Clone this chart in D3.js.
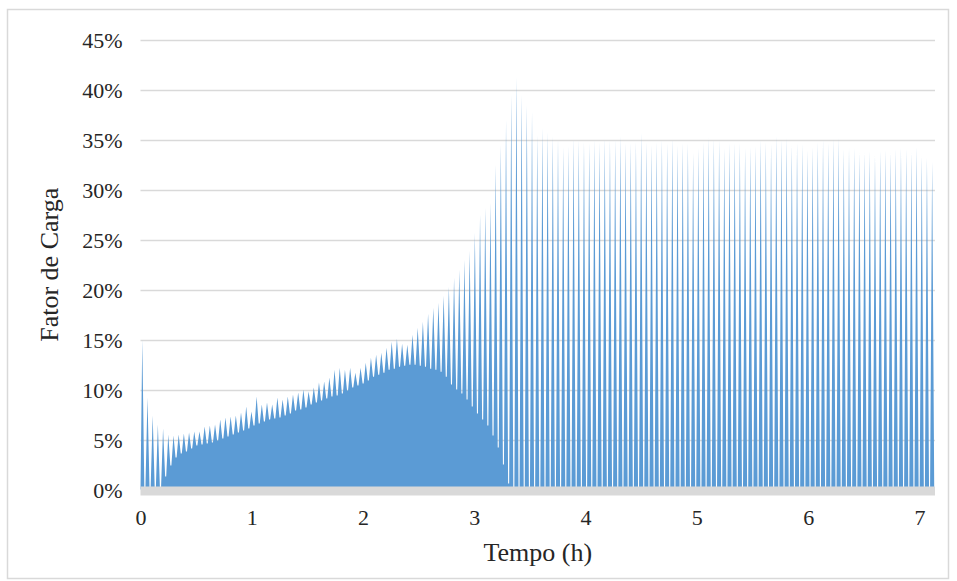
<!DOCTYPE html>
<html>
<head>
<meta charset="utf-8">
<script src="https://cdn.jsdelivr.net/npm/d3@7/dist/d3.min.js"></script>
<style>
  html, body { margin: 0; padding: 0; background: #ffffff; }
  svg { display: block; }
</style>
</head>
<body>
<svg id="chart" width="957" height="581"></svg>
<script>
// ---- Data ----
// Load factor oscillates in short cycles; each cycle has a peak and a trough (in %).
const cycleStartH = 0.016;      // time of the first peak (h)
const cycleLengthH = 0.0467;    // length of one load cycle (h)
const timeEndH = 7.14;          // end of the record (h)

const peakPct = [
  15.0, 9.2, 7.4, 6.5, 6.1, 5.5, 5.4, 5.5, 5.6, 5.7,
  5.8, 5.8, 6.3, 6.4, 6.5, 7.0, 7.2, 7.3, 7.4, 7.7,
  8.3, 7.8, 9.3, 8.5, 8.7, 8.5, 9.2, 9.0, 9.3, 9.5,
  9.7, 10.0, 9.8, 10.2, 10.7, 10.8, 11.2, 12.0, 12.2, 12.0,
  12.2, 11.7, 12.2, 12.7, 13.2, 13.5, 13.7, 14.2, 14.8, 15.1,
  14.6, 14.5, 15.5, 16.2, 16.8, 17.6, 18.2, 18.7, 19.4, 20.3,
  21.2, 22.0, 23.0, 23.9, 25.7, 27.5, 28.2, 28.7, 32.5, 34.5,
  37.0, 39.5, 41.3, 39.5, 38.5, 37.8, 35.5, 36.2, 35.8, 35.4,
  35.1, 34.3, 34.4, 35.2, 35.0, 34.8, 34.7, 35.0, 34.8, 35.2,
  35.0, 35.0, 35.4, 34.7, 34.7, 34.8, 35.7, 34.8, 34.5, 34.8,
  35.0, 34.7, 35.2, 34.5, 34.7, 34.7, 33.7, 34.2, 34.8, 35.3,
  35.1, 35.0, 34.2, 34.7, 34.7, 34.7, 34.2, 34.3, 34.4, 35.0,
  34.8, 34.6, 35.4, 35.0, 35.2, 34.5, 34.7, 34.6, 34.0, 34.3,
  34.8, 35.0, 34.7, 35.1, 35.2, 34.1, 34.2, 34.2, 33.8, 33.8,
  33.9, 33.5, 33.9, 34.0, 33.8, 34.1, 34.2, 34.1, 33.8, 34.3,
  33.4, 33.2, 32.8
];

const troughPct = [
  0, 0, 0, 0, 1.3, 2.4, 3.2, 3.6, 3.8, 4.1,
  4.4, 4.5, 4.6, 4.7, 4.9, 5.1, 5.3, 5.5, 5.7, 5.9,
  6.1, 6.4, 6.6, 6.8, 7.0, 7.1, 7.2, 7.4, 7.6, 7.9,
  8.0, 8.2, 8.5, 8.7, 8.9, 9.1, 9.3, 9.4, 9.6, 9.9,
  10.2, 10.4, 10.6, 10.9, 11.3, 11.5, 11.7, 12.0, 12.1, 12.3,
  12.4, 12.5, 12.5, 12.4, 12.3, 12.1, 12.0, 11.8, 11.3, 10.5,
  10.0, 9.6, 9.0, 8.3, 7.6, 7.0, 6.4, 5.4, 4.2, 2.5,
  0.6, 0, 0, 0, 0, 0, 0, 0, 0, 0,
  0, 0, 0, 0, 0, 0, 0, 0, 0, 0,
  0, 0, 0, 0, 0, 0, 0, 0, 0, 0,
  0, 0, 0, 0, 0, 0, 0, 0, 0, 0,
  0, 0, 0, 0, 0, 0, 0, 0, 0, 0,
  0, 0, 0, 0, 0, 0, 0, 0, 0, 0,
  0, 0, 0, 0, 0, 0, 0, 0, 0, 0,
  0, 0, 0, 0, 0, 0, 0, 0, 0, 0,
  0, 0, 0
];

const yTickValues = [0, 5, 10, 15, 20, 25, 30, 35, 40, 45];
const yTickLabels = ["0%", "5%", "10%", "15%", "20%", "25%", "30%", "35%", "40%", "45%"];
const xTickValues = [0, 1, 2, 3, 4, 5, 6, 7];
const xTickLabels = ["0", "1", "2", "3", "4", "5", "6", "7"];

const xTitle = "Tempo (h)";
const yTitle = "Fator de Carga";

// ---- Layout ----
const W = 957, H = 581;
const plot = { left: 140.5, right: 935, top: 40, bottom: 489.5 };
const FONT = "'Liberation Serif', 'Times New Roman', serif";
const BLUE = "#5B9BD5";
const GRID = "#d9d9d9";

const svg = d3.select("#chart");

const x = d3.scaleLinear().domain([0, timeEndH]).range([plot.left, plot.right]);
const y = d3.scaleLinear().domain([0, 45]).range([plot.bottom, plot.top]);

// outer chart border
svg.append("rect")
  .attr("x", 7.5).attr("y", 9.5)
  .attr("width", 941).attr("height", 569)
  .attr("fill", "#fff").attr("stroke", GRID).attr("stroke-width", 1.5);

// gridlines
svg.append("g")
  .selectAll("line")
  .data(yTickValues.filter(v => v > 0))
  .join("line")
  .attr("x1", plot.left).attr("x2", plot.right)
  .attr("y1", d => Math.round(y(d)) + 0.5).attr("y2", d => Math.round(y(d)) + 0.5)
  .attr("stroke", GRID).attr("stroke-width", 1.3);

// build the oscillating series: rise to each peak, fall to the trough, short dwell, next peak
const pts = [[0, 0]];
peakPct.forEach((p, i) => {
  const t = cycleStartH + i * cycleLengthH;
  pts.push([t, p]);
  pts.push([t + 0.4 * cycleLengthH, troughPct[i]]);
  pts.push([t + 0.6 * cycleLengthH, troughPct[i]]);
});
pts.push([timeEndH, 0]);

const area = d3.area()
  .x(d => x(Math.min(d[0], timeEndH)))
  .y0(y(0))
  .y1(d => y(d[1]))
  .curve(d3.curveLinear);

svg.append("path")
  .datum(pts)
  .attr("d", area)
  .attr("fill", BLUE);

// thick grey category axis band
svg.append("rect")
  .attr("x", plot.left).attr("y", plot.bottom - 3)
  .attr("width", plot.right - plot.left).attr("height", 9)
  .attr("fill", GRID);

// y axis labels (via d3 axis, domain/ticks hidden)
const yAxis = d3.axisLeft(y)
  .tickValues(yTickValues)
  .tickFormat((d, i) => yTickLabels[i])
  .tickSize(0).tickPadding(0);
const gy = svg.append("g").attr("transform", `translate(${plot.left - 18},0)`).call(yAxis);
gy.select(".domain").remove();
gy.selectAll("text")
  .attr("font-family", FONT).attr("font-size", 22).attr("fill", "#262626")
  .attr("dy", "0.35em");

// x axis labels
const xAxis = d3.axisBottom(x)
  .tickValues(xTickValues)
  .tickFormat((d, i) => xTickLabels[i])
  .tickSize(0).tickPadding(0);
const gx = svg.append("g").attr("transform", `translate(0,${plot.bottom + 35})`).call(xAxis);
gx.select(".domain").remove();
gx.selectAll("text")
  .attr("font-family", FONT).attr("font-size", 22).attr("fill", "#262626")
  .attr("dy", 0);

// axis titles
svg.append("text")
  .attr("x", (plot.left + plot.right) / 2).attr("y", 561)
  .attr("text-anchor", "middle")
  .attr("font-family", FONT).attr("font-size", 26).attr("fill", "#262626")
  .text(xTitle);

svg.append("text")
  .attr("transform", `translate(58,${(plot.top + plot.bottom) / 2}) rotate(-90)`)
  .attr("text-anchor", "middle")
  .attr("font-family", FONT).attr("font-size", 26).attr("fill", "#262626")
  .text(yTitle);
</script>
</body>
</html>
